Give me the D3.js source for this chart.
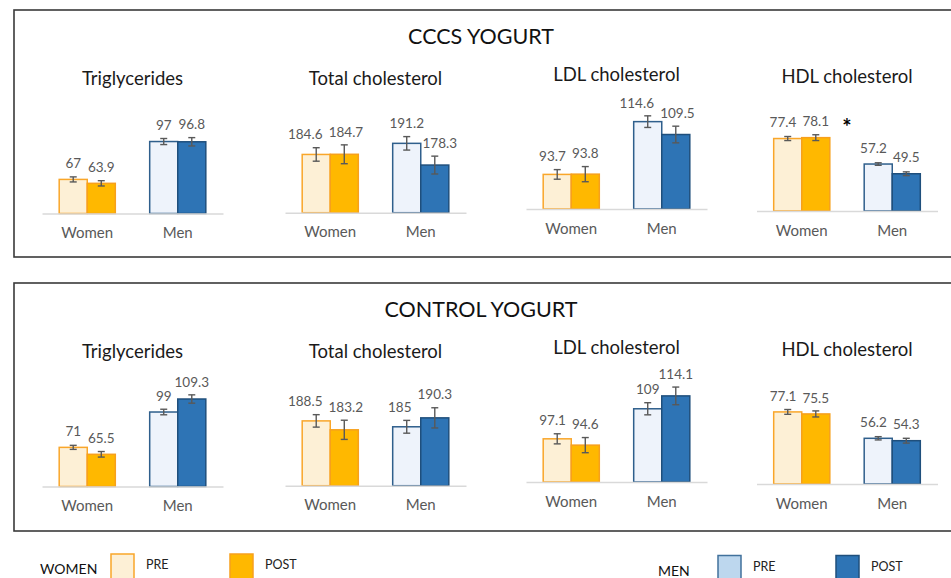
<!DOCTYPE html>
<html lang="en">
<head>
    <meta charset="utf-8">
    <title>Lipids, pre and post yogurt</title>
    <script src="https://d3js.org/d3.v7.min.js"></script>
    <style type="text/css">
        body { margin: 0; background: #fff; }
        svg text { font-family: Lato, "Open Sans", sans-serif; }
    </style>
</head>
<body>
<script type="text/javascript">
    //Data
    var panelTitles = ["CCCS YOGURT", "CONTROL YOGURT"];
    var metrics = ["Triglycerides", "Total cholesterol", "LDL cholesterol", "HDL cholesterol"];
    var groups = ["Women", "Men"];
    var axisMin = [40, 150, 80, 20];
    var axisMax = [120, 210, 120, 100];

    var cccsWomenPre = [67, 184.6, 93.7, 77.4];
    var cccsWomenPost = [63.9, 184.7, 93.8, 78.1];
    var cccsMenPre = [97, 191.2, 114.6, 57.2];
    var cccsMenPost = [96.8, 178.3, 109.5, 49.5];
    var cccsWomenPreErr = [2, 4, 1.9, 1.6];
    var cccsWomenPostErr = [2.1, 5.6, 3, 2.3];
    var cccsMenPreErr = [2.4, 4, 2.3, 1];
    var cccsMenPostErr = [3.3, 5.3, 3.3, 1.5];
    var cccsMarks = ["", "", "", "*"];

    var controlWomenPre = [71, 188.5, 97.1, 77.1];
    var controlWomenPost = [65.5, 183.2, 94.6, 75.5];
    var controlMenPre = [99, 185, 109, 56.2];
    var controlMenPost = [109.3, 190.3, 114.1, 54.3];
    var controlWomenPreErr = [1.6, 3.7, 2, 1.9];
    var controlWomenPostErr = [2.2, 5.7, 3, 2.4];
    var controlMenPreErr = [2.2, 3.8, 2.4, 1.3];
    var controlMenPostErr = [3.3, 6, 3.5, 1.9];
    var controlMarks = ["", "", "", ""];

    var legendItems = ["PRE", "POST"];

    //Layout
    var w = 951, h = 578;
    var panelTop = [10, 283];
    var panelH = [247, 248];
    var chartCx = [132.5, 375.5, 616.5, 847];
    var chartDy = [0, -0.8, -4.5, -2.5];
    var axisW = 181;
    var plotH = 101;

    var colors = {
        Women: { pre: ["#fdf0d6", "#f9a62a"], post: ["#ffb800", "#f7a01c"] },
        Men: { pre: ["#eef3fb", "#2f5f8c"], post: ["#2e74b5", "#1f4f7c"] }
    };

    var panels = [
        { title: panelTitles[0], marks: cccsMarks,
          Women: { pre: cccsWomenPre, post: cccsWomenPost, preErr: cccsWomenPreErr, postErr: cccsWomenPostErr },
          Men: { pre: cccsMenPre, post: cccsMenPost, preErr: cccsMenPreErr, postErr: cccsMenPostErr } },
        { title: panelTitles[1], marks: controlMarks,
          Women: { pre: controlWomenPre, post: controlWomenPost, preErr: controlWomenPreErr, postErr: controlWomenPostErr },
          Men: { pre: controlMenPre, post: controlMenPost, preErr: controlMenPreErr, postErr: controlMenPostErr } }
    ];

    var svg = d3.select("body")
        .append("svg")
        .attr("width", w)
        .attr("height", h);

    panels.forEach(function(p, pi) {
        var top = panelTop[pi];
        var g = svg.append("g").attr("transform", "translate(0," + top + ")");

        //Frame
        g.append("rect")
            .attr("x", 14)
            .attr("y", 0)
            .attr("width", 960)
            .attr("height", panelH[pi])
            .attr("fill", "none")
            .attr("stroke", "#3a3a3a")
            .attr("stroke-width", 1.6);

        g.append("text")
            .attr("x", 481)
            .attr("y", 26)
            .attr("dy", "0.35em")
            .attr("text-anchor", "middle")
            .attr("font-size", "21.5px")
            .attr("fill", "#111")
            .text(p.title);

        metrics.forEach(function(m, mi) {
            var base = 203.5 + chartDy[mi];
            var cx = chartCx[mi];

            var xScale = d3.scaleBand()
                .domain(groups)
                .range([cx - axisW / 2, cx + axisW / 2])
                .paddingInner(0.38)
                .paddingOuter(0.19);
            var subScale = d3.scaleBand()
                .domain(["pre", "post"])
                .range([0, xScale.bandwidth()]);
            var yScale = d3.scaleLinear()
                .domain([axisMin[mi], axisMax[mi]])
                .range([base, base - plotH]);

            var c = g.append("g");

            c.append("text")
                .attr("x", cx)
                .attr("y", 69 + chartDy[mi])
                .attr("dy", "0.35em")
                .attr("text-anchor", "middle")
                .attr("font-size", "18.5px")
                .attr("fill", "#1a1a1a")
                .text(m);

            //flat list of bars for this chart
            var bars = [];
            groups.forEach(function(gr) {
                ["pre", "post"].forEach(function(t) {
                    bars.push({ group: gr, time: t, value: p[gr][t][mi], err: p[gr][t + "Err"][mi] });
                });
            });

            c.selectAll("rect.bar")
                .data(bars)
                .enter()
                .append("rect")
                .attr("class", "bar")
                .attr("x", function(d) { return xScale(d.group) + subScale(d.time); })
                .attr("y", function(d) { return yScale(d.value); })
                .attr("width", subScale.bandwidth())
                .attr("height", function(d) { return base - yScale(d.value); })
                .attr("fill", function(d) { return colors[d.group][d.time][0]; })
                .attr("stroke", function(d) { return colors[d.group][d.time][1]; })
                .attr("stroke-width", 1.5);

            //Axis line
            var xAxis = d3.axisBottom(xScale).tickSize(0).tickPadding(14);
            var ax = c.append("g")
                .attr("transform", "translate(0," + base + ")")
                .call(xAxis);
            ax.select(".domain").attr("stroke", "#d9d9d9").attr("stroke-width", 1.6);
            ax.selectAll("text")
                .attr("font-family", "Lato, sans-serif")
                .attr("font-size", "15px")
                .attr("fill", "#595959");

            //Error bars
            var eb = c.selectAll("g.err")
                .data(bars)
                .enter()
                .append("g")
                .attr("class", "err")
                .attr("stroke", "#595959")
                .attr("stroke-width", 1.4);
            var mid = function(d) { return xScale(d.group) + subScale(d.time) + subScale.bandwidth() / 2; };
            eb.append("line")
                .attr("x1", mid).attr("x2", mid)
                .attr("y1", function(d) { return yScale(d.value - d.err); })
                .attr("y2", function(d) { return yScale(d.value + d.err); });
            [-1, 1].forEach(function(s) {
                eb.append("line")
                    .attr("x1", function(d) { return mid(d) - 3.5; })
                    .attr("x2", function(d) { return mid(d) + 3.5; })
                    .attr("y1", function(d) { return yScale(d.value + s * d.err); })
                    .attr("y2", function(d) { return yScale(d.value + s * d.err); });
            });

            //Value labels
            var labels = c.selectAll("text.val")
                .data(bars)
                .enter()
                .append("text")
                .attr("class", "val")
                .attr("x", mid)
                .attr("y", function(d) {
                    return Math.min(yScale(d.value) - 16, yScale(d.value + d.err) - 13);
                })
                .attr("dy", "0.35em")
                .attr("text-anchor", "middle")
                .attr("font-size", "13.5px")
                .attr("fill", "#595959")
                .text(function(d) { return d.value; });

            //push pre/post labels apart when they collide, mostly moving the PRE one
            var nodes = labels.nodes();
            for (var k = 0; k < nodes.length; k += 2) {
                var a = nodes[k], b = nodes[k + 1];
                var ba = a.getBBox(), bb = b.getBBox();
                if (Math.abs(ba.y - bb.y) < 13) {
                    var need = (ba.x + ba.width + 6) - bb.x;
                    if (need > 0) {
                        var left = Math.min(need, 11);
                        a.setAttribute("x", +a.getAttribute("x") - left);
                        b.setAttribute("x", +b.getAttribute("x") + (need - left));
                    }
                } else if (ba.y < bb.y) {
                    //lower POST label sits next to a taller PRE error bar: nudge right
                    b.setAttribute("x", +b.getAttribute("x") + 5);
                }
            }

            if (p.marks[mi]) {
                c.append("text")
                    .attr("x", cx)
                    .attr("y", base - 76)
                    .attr("text-anchor", "middle")
                    .attr("font-family", "DejaVu Sans, sans-serif")
                    .attr("font-size", "22px")
                    .attr("font-weight", "bold")
                    .attr("fill", "#000")
                    .text(p.marks[mi]);
            }
        });
    });

    //Legend
    var legendGroups = [
        { name: "WOMEN", x: 40, y: 569, fills: [["#fdf0d6", "#f9a62a"], ["#ffb800", "#f7a01c"]], rx: [111, 230], ry: 554 },
        { name: "MEN", x: 658, y: 571, fills: [["#bdd7ee", "#41719c"], ["#2e74b5", "#1f4f7c"]], rx: [718, 836], ry: 555.5 }
    ];
    legendGroups.forEach(function(lg) {
        svg.append("text")
            .attr("x", lg.x)
            .attr("y", lg.y)
            .attr("dy", "0.35em")
            .attr("font-size", "14px")
            .attr("fill", "#111")
            .text(lg.name);
        legendItems.forEach(function(item, i) {
            svg.append("rect")
                .attr("x", lg.rx[i])
                .attr("y", lg.ry)
                .attr("width", 23)
                .attr("height", 26)
                .attr("fill", lg.fills[i][0])
                .attr("stroke", lg.fills[i][1])
                .attr("stroke-width", 1.5);
            svg.append("text")
                .attr("x", lg.rx[i] + 35)
                .attr("y", lg.ry + 11)
                .attr("dy", "0.35em")
                .attr("font-size", "12.5px")
                .attr("fill", "#222")
                .text(item);
        });
    });
</script>
</body>
</html>
